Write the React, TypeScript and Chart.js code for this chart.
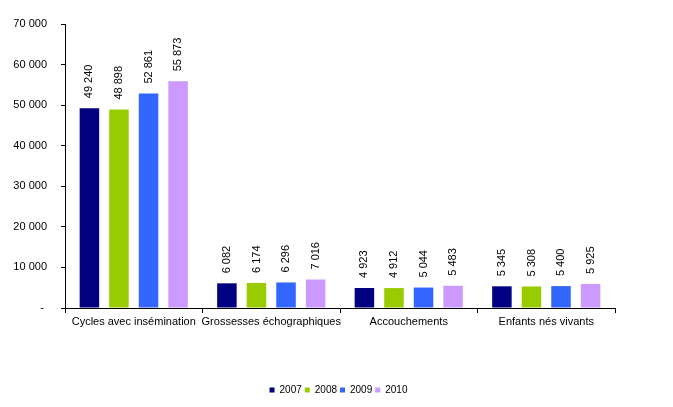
import React, { useRef, useEffect } from "react";
import { Chart, registerables, Plugin } from "chart.js";

Chart.register(...registerables);

const categories = [
  "Cycles avec insémination",
  "Grossesses échographiques",
  "Accouchements",
  "Enfants nés vivants",
];
const years = ["2007", "2008", "2009", "2010"];
const values2007 = [49240, 6082, 4923, 5345];
const values2008 = [48898, 6174, 4912, 5308];
const values2009 = [52861, 6296, 5044, 5400];
const values2010 = [55873, 7016, 5483, 5925];
const yTicks = [0, 10000, 20000, 30000, 40000, 50000, 60000, 70000];

const COLORS = ["#000080", "#99CC00", "#3366FF", "#CC99FF"];
const FONT = "'Liberation Sans', Arial, sans-serif";

function fmt(v: number) {
  if (v === 0) return "- ";
  return String(v).replace(/\B(?=(\d{3})+(?!\d))/g, " ");
}

// vertical value labels above each bar
const barLabels: Plugin<"bar"> = {
  id: "barLabels",
  afterDatasetsDraw(chart) {
    const ctx = chart.ctx;
    ctx.save();
    ctx.font = `11px ${FONT}`;
    ctx.fillStyle = "#000";
    ctx.textAlign = "left";
    ctx.textBaseline = "middle";
    chart.data.datasets.forEach((ds, i) => {
      const meta = chart.getDatasetMeta(i);
      meta.data.forEach((bar, j) => {
        const v = ds.data[j] as number;
        ctx.save();
        ctx.translate(bar.x, bar.y - 10);
        ctx.rotate(-Math.PI / 2);
        ctx.fillText(fmt(v), 0, 0);
        ctx.restore();
      });
    });
    ctx.restore();
  },
};

// centre the legend on the whole canvas, not just the padded area
const legendCentre: Plugin<"bar"> = {
  id: "legendCentre",
  afterLayout(chart) {
    const lg: any = (chart as any).legend;
    if (!lg) return;
    lg.left = 2;
    lg.right = chart.width + 2;
  },
};

export default function App() {
  const canvas = useRef<HTMLCanvasElement>(null);
  const chart = useRef<Chart>();

  useEffect(() => {
    document.body.style.margin = "0";
    const ctx = canvas.current!.getContext("2d");
    if (!ctx) return;

    const series = [values2007, values2008, values2009, values2010];

    chart.current = new Chart(ctx, {
      type: "bar",
      data: {
        labels: categories,
        datasets: years.map((y, i) => ({
          label: y,
          data: series[i],
          backgroundColor: COLORS[i],
          borderWidth: 0,
          categoryPercentage: 0.86,
          barPercentage: 0.66,
        })),
      },
      options: {
        animation: false,
        responsive: false,
        maintainAspectRatio: false,
        layout: { padding: { top: 24, right: 58, left: 0, bottom: 2 } },
        plugins: {
          tooltip: { enabled: false },
          legend: {
            position: "bottom",
            labels: {
              boxWidth: 5,
              boxHeight: 5,
              padding: 3,
              color: "#000",
              font: { family: FONT, size: 10 },
            },
          },
        },
        scales: {
          x: {
            afterFit: (s) => {
              s.height = 74;
            },
            border: { display: true, color: "#000", width: 1 },
            grid: {
              offset: true,
              drawOnChartArea: false,
              drawTicks: true,
              tickLength: 5,
              color: "#000",
            },
            ticks: {
              color: "#000",
              padding: 2,
              maxRotation: 0,
              autoSkip: false,
              font: { family: FONT, size: 11 },
            },
          },
          y: {
            min: 0,
            max: 70000,
            afterFit: (s) => {
              s.width = 65;
            },
            afterBuildTicks: (s) => {
              s.ticks = yTicks.map((v) => ({ value: v }));
            },
            border: { display: true, color: "#000", width: 1 },
            grid: {
              drawOnChartArea: false,
              drawTicks: true,
              tickLength: 4,
              color: "#000",
            },
            ticks: {
              color: "#000",
              padding: 14,
              font: { family: FONT, size: 11 },
              callback: (v) => fmt(Number(v)),
            },
          },
        },
      },
      plugins: [barLabels, legendCentre],
    });

    return () => {
      chart.current!.destroy();
    };
  }, []);

  return (
    <div style={{ width: 673, height: 407, background: "#fff" }}>
      <canvas ref={canvas} width={673} height={407} />
    </div>
  );
}
